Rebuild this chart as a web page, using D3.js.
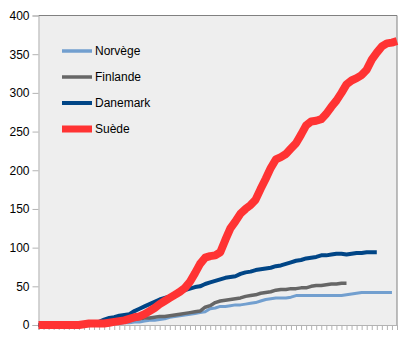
<!DOCTYPE html>
<html>
<head>
<meta charset="utf-8">
<script src="https://cdn.jsdelivr.net/npm/d3@7"></script>
<style>
  html, body { margin: 0; padding: 0; background: #ffffff; }
  svg { display: block; }
  text { font-family: "Liberation Sans", Arial, sans-serif; }
</style>
</head>
<body>
<svg id="chart" width="405" height="340"></svg>
<script>
// Daily cumulative counts, one value per day (72 days)
const days = d3.range(72);

const norvege = [0,0,0,0,0,0,0,0,0,0,0,0,1,1,1,2,2,3,3,4,
  4,5,6,6,7,8,10,11,12,13,14,15,16,17,21,22,24,24,25,26,
  26,27,28,29,31,33,34,35,35,35,36,38,38,38,38,38,38,38,38,38,
  38,39,40,41,42,42,42,42,42,42,42];

const finlande = [0,0,0,0,0,0,0,0,0,0,0,1,2,3,4,4,5,5,6,7,
  8,9,9,10,11,11,12,13,14,15,16,17,18,23,25,29,31,32,33,34,
  35,37,38,39,41,42,43,45,46,46,47,47,48,48,50,51,51,52,53,53,
  54,54];

const danemark = [0,0,0,0,0,0,0,0,0,0,1,2,4,7,9,10,12,13,14,18,
  21,24,27,30,33,35,37,40,42,45,47,49,50,53,55,57,59,61,62,63,
  66,68,69,71,72,73,74,76,77,79,81,83,84,86,87,88,90,90,91,92,
  92,91,92,93,93,94,94,94];

const suede = [0,0,0,0,0,0,0,0,0,1,2,2,2,2,3,4,5,6,8,10,
  11,14,18,22,27,31,35,39,43,48,56,67,79,87,89,90,94,110,125,134,
  144,150,155,162,176,189,203,214,217,221,228,235,246,258,263,264,266,273,282,290,
  300,311,316,319,323,330,343,352,360,364,365,367];

const yTicks = [0, 50, 100, 150, 200, 250, 300, 350, 400];

const series = [
  { name: "Norvège",  values: norvege,  color: "#729fcf", width: 3 },
  { name: "Finlande", values: finlande, color: "#666666", width: 3.5 },
  { name: "Danemark", values: danemark, color: "#004586", width: 4 },
  { name: "Suède",    values: suede,    color: "#ff3333", width: 8 }
];

const margin = { left: 38.5, right: 8, top: 15.5, bottom: 15 };
const W = 405, H = 340;
const svg = d3.select("#chart");

const x = d3.scaleLinear()
  .domain([0, days.length - 1])
  .range([margin.left, W - margin.right]);

const y = d3.scaleLinear()
  .domain([0, 400])
  .range([H - margin.bottom, margin.top]);

// plot background and frame
svg.append("rect")
  .attr("x", margin.left).attr("y", margin.top)
  .attr("width", x.range()[1] - margin.left)
  .attr("height", y(0) - margin.top)
  .attr("fill", "#eeeeee");

svg.append("path")
  .attr("d", `M${margin.left},${margin.top}H${x.range()[1]}V${y(0)}`)
  .attr("fill", "none").attr("stroke", "#808080").attr("stroke-width", 1);

// y axis
const yAxis = svg.append("g")
  .attr("transform", `translate(${margin.left},0)`)
  .call(d3.axisLeft(y).tickValues(yTicks).tickSize(6).tickPadding(3));
yAxis.select(".domain").attr("stroke", "#b3b3b3");
yAxis.selectAll(".tick line").attr("stroke", "#b3b3b3");
yAxis.selectAll(".tick text")
  .attr("fill", "#000").style("font-size", "12px")
  .style("font-family", "'Liberation Sans', Arial, sans-serif");

// x axis: one tick per day, no labels
const xAxis = svg.append("g")
  .attr("transform", `translate(0,${y(0)})`)
  .call(d3.axisBottom(x).tickValues(days).tickSize(5).tickFormat(""));
xAxis.select(".domain").attr("stroke", "#b3b3b3");
xAxis.selectAll(".tick line").attr("stroke", "#b3b3b3");

// series lines
const line = d3.line()
  .defined(d => d != null)
  .x((d, i) => x(i))
  .y(d => y(d));

svg.append("g").selectAll("path")
  .data(series)
  .join("path")
  .attr("d", s => line(s.values))
  .attr("fill", "none")
  .attr("stroke", s => s.color)
  .attr("stroke-width", s => s.width)
  .attr("stroke-linejoin", "round")
  .attr("stroke-linecap", "butt");

// legend
const legend = svg.append("g");
const rowY = [51, 77, 103, 129];
series.forEach((s, i) => {
  legend.append("line")
    .attr("x1", 62).attr("x2", 92)
    .attr("y1", rowY[i]).attr("y2", rowY[i])
    .attr("stroke", s.color)
    .attr("stroke-width", i === 3 ? 7 : (i === 2 ? 4 : 3.5));
  legend.append("text")
    .attr("x", 95).attr("y", rowY[i])
    .attr("dy", "0.36em")
    .style("font-size", "12px")
    .attr("fill", "#000")
    .text(s.name);
});
</script>
</body>
</html>
